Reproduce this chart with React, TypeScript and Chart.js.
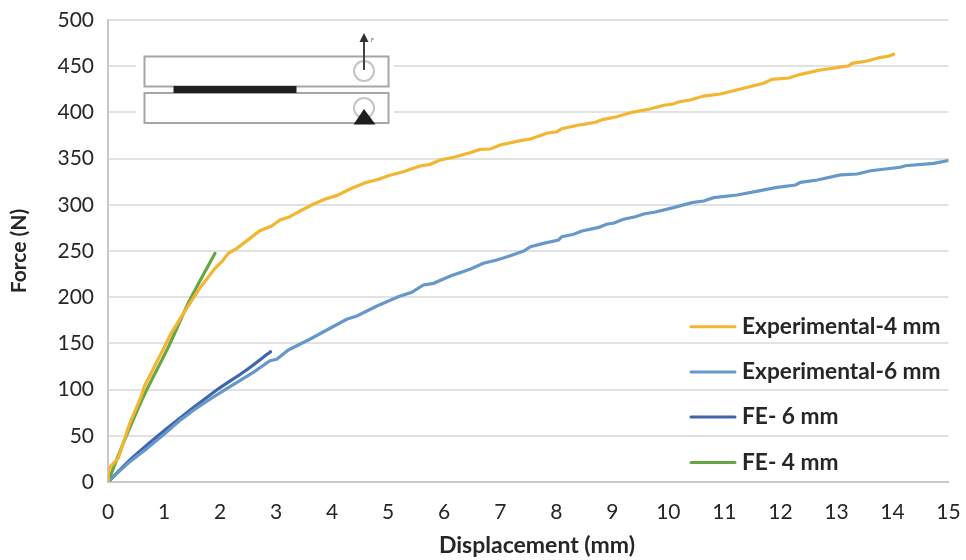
import React, { useEffect, useRef } from "react";
import { Chart, registerables } from "chart.js";

Chart.register(...registerables);

const FONT = "Lato, Carlito, 'Open Sans', sans-serif";
const TEXT = "#262626";

const exp4X = [0, 0.006, 0.065, 0.185, 0.27, 0.38, 0.45, 0.57, 0.66, 0.78, 0.87, 0.98, 1.11, 1.29, 1.46, 1.64, 1.91, 2.03, 2.15, 2.3, 2.51, 2.71, 2.92, 3.07, 3.22, 3.43, 3.67, 3.88, 4.08, 4.32, 4.59, 4.83, 5.0, 5.27, 5.57, 5.75, 5.93, 6.17, 6.46, 6.64, 6.82, 7.0, 7.36, 7.54, 7.83, 8.01, 8.1, 8.4, 8.49, 8.7, 8.84, 9.08, 9.35, 9.65, 9.92, 10.09, 10.18, 10.39, 10.63, 10.93, 11.29, 11.7, 11.85, 12.15, 12.36, 12.71, 13.01, 13.22, 13.28, 13.55, 13.79, 13.93, 14.02];
const exp4Y = [0, 13, 18, 26, 42, 62, 72.5, 89, 105, 119, 130, 143, 159, 177, 193, 210, 231.3, 238.4, 247.5, 252.9, 262.6, 272, 277, 283.5, 286.4, 293.3, 300.9, 306.3, 309.9, 317.1, 323.9, 327.6, 331.5, 335.8, 342, 343.8, 348.5, 351.4, 356.4, 360, 360.4, 364.7, 369.4, 371.2, 377.4, 379.1, 382.4, 386.4, 387.1, 389.3, 392.5, 395.3, 400.1, 403.4, 407.7, 409.1, 411.3, 413.4, 417.7, 419.9, 425.3, 431.5, 435.8, 437.2, 441.2, 445.9, 448.4, 450.5, 453.1, 455.6, 459.6, 460.7, 462.9];

const exp6X = [0, 0.155, 0.39, 0.69, 0.99, 1.29, 1.58, 1.88, 2.12, 2.36, 2.6, 2.89, 3.01, 3.22, 3.61, 3.93, 4.26, 4.44, 4.8, 5.18, 5.42, 5.63, 5.81, 6.11, 6.46, 6.7, 6.94, 7.18, 7.42, 7.54, 7.77, 8.04, 8.1, 8.31, 8.46, 8.76, 8.91, 9.02, 9.2, 9.41, 9.56, 9.77, 10.09, 10.42, 10.63, 10.81, 11.23, 11.64, 11.94, 12.27, 12.36, 12.66, 13.07, 13.37, 13.61, 14.14, 14.23, 14.74, 15];
const exp6Y = [0, 9, 22, 36, 51, 67, 80, 92, 101, 110, 119, 131.3, 132.8, 142.9, 154.8, 165.3, 176.1, 179.7, 190.5, 200.5, 205.3, 213.2, 215, 222.9, 230.2, 236.7, 240.3, 244.9, 250, 254.7, 258.3, 261.9, 265.5, 268.1, 271.6, 275.6, 279.2, 280, 284.3, 287.1, 290, 292.2, 296.9, 302.3, 304.1, 307.7, 310.6, 315.3, 318.9, 321.4, 324.3, 326.8, 332.3, 333.3, 336.9, 340.6, 342.3, 344.9, 348];

const fe6X = [0, 0.45, 1.05, 1.94, 2.42, 2.9];
const fe6Y = [0, 27, 58, 99.5, 119, 141];

const fe4X = [0, 0.27, 0.63, 1.08, 1.46, 1.91];
const fe4Y = [0, 41.5, 92, 146.5, 197, 247.5];

const seriesNames = ["Experimental-4 mm", "Experimental-6 mm", "FE- 6 mm", "FE- 4 mm"];
const seriesColors = ["#F2B632", "#6699C9", "#3F65AC", "#68A644"];
const seriesTension = [0, 0, 0.3, 0.3];
const xTicks = [0, 1, 2, 3, 4, 5, 6, 7, 8, 9, 10, 11, 12, 13, 14, 15];
const yTitle = "Force (N)";
const xTitle = "Displacement (mm)";

const pts = (xs: number[], ys: number[]) => xs.map((x, i) => ({ x, y: ys[i] }));

const noScalePadding = (s: any) => {
  s.paddingLeft = 0;
  s.paddingRight = 0;
  s.paddingTop = 0;
  s.paddingBottom = 0;
};

const overlay = {
  id: "overlay",
  afterDraw(chart: any) {
    const c = chart.ctx as CanvasRenderingContext2D;
    c.save();
    // loading-setup inset
    c.fillStyle = "#fff";
    c.fillRect(136, 40, 258, 90);
    c.strokeStyle = "#a6a6a6";
    c.lineWidth = 2;
    c.strokeRect(144.5, 56.5, 244, 30);
    c.strokeRect(144.5, 93, 244, 30);
    c.strokeStyle = "#c4c4c4";
    c.beginPath();
    c.arc(364, 71, 10, 0, Math.PI * 2);
    c.stroke();
    c.beginPath();
    c.arc(364, 108, 10, 0, Math.PI * 2);
    c.stroke();
    c.fillStyle = "#1e1e1e";
    c.fillRect(173.5, 86, 123, 7);
    c.beginPath();
    c.moveTo(364, 109);
    c.lineTo(353.5, 124.5);
    c.lineTo(375.5, 124.5);
    c.closePath();
    c.fill();
    c.strokeStyle = "#444";
    c.lineWidth = 2;
    c.beginPath();
    c.moveTo(364, 70);
    c.lineTo(364, 38);
    c.stroke();
    c.fillStyle = "#333";
    c.beginPath();
    c.moveTo(364, 33);
    c.lineTo(359.5, 42);
    c.lineTo(368.5, 42);
    c.closePath();
    c.fill();
    c.font = `5px ${FONT}`;
    c.textAlign = "left";
    c.textBaseline = "middle";
    c.fillStyle = "#555";
    c.fillText("F", 371, 40);

    // legend
    const rows = [326.7, 372, 417, 462.5];
    c.font = `bold 22.7px ${FONT}`;
    seriesNames.forEach((name, i) => {
      c.strokeStyle = seriesColors[i];
      c.lineWidth = 3;
      c.lineCap = "round";
      c.beginPath();
      c.moveTo(691, rows[i]);
      c.lineTo(735, rows[i]);
      c.stroke();
      c.fillStyle = TEXT;
      c.fillText(name, 742, rows[i]);
    });

    // x axis title, off-centre in the reference
    c.font = `bold 23px ${FONT}`;
    c.textAlign = "center";
    c.fillText(xTitle, 537, 546);
    c.restore();
  },
};

export default function App() {
  const ref = useRef<HTMLCanvasElement>(null);
  useEffect(() => {
    const chart = new Chart(ref.current!, {
      type: "line",
      data: {
        datasets: [
          { label: seriesNames[0], data: pts(exp4X, exp4Y) },
          { label: seriesNames[1], data: pts(exp6X, exp6Y) },
          { label: seriesNames[2], data: pts(fe6X, fe6Y) },
          { label: seriesNames[3], data: pts(fe4X, fe4Y) },
        ].map((d, i) => ({
          ...d,
          borderColor: seriesColors[i],
          backgroundColor: seriesColors[i],
          borderWidth: 3.2,
          pointRadius: 0,
          tension: seriesTension[i],
          borderCapStyle: "round" as const,
        })),
      },
      options: {
        responsive: false,
        animation: false,
        layout: { autoPadding: false, padding: { top: 20, right: 17.5, left: 0, bottom: 0 } },
        plugins: { legend: { display: false }, tooltip: { enabled: false } },
        scales: {
          x: {
            type: "linear",
            min: 0,
            max: 15,
            afterBuildTicks: (s: any) => {
              s.ticks = xTicks.map((value) => ({ value }));
            },
            afterFit: (s: any) => {
              s.height = 78;
              noScalePadding(s);
            },
            grid: { display: false, drawTicks: false },
            border: { color: "#c8c8c8", width: 2 },
            ticks: {
              font: { family: FONT, size: 21 },
              color: TEXT,
              maxRotation: 0,
              autoSkip: false,
              padding: 18,
            },
          },
          y: {
            min: 0,
            max: 500,
            afterFit: (s: any) => {
              s.width = 108;
              noScalePadding(s);
            },
            grid: { color: "#e2e2e2", lineWidth: 2, drawTicks: false },
            border: { color: "#c8c8c8", width: 2 },
            ticks: {
              stepSize: 50,
              font: { family: FONT, size: 21 },
              color: TEXT,
              padding: 14,
            },
            title: {
              display: true,
              text: yTitle,
              font: { family: FONT, size: 21, weight: "bold" },
              color: TEXT,
              padding: { top: 7, bottom: 0 },
            },
          },
        },
      },
      plugins: [overlay],
    } as any);
    return () => chart.destroy();
  }, []);
  return (
    <div style={{ position: "fixed", left: 0, top: 0, width: 966, height: 560, background: "#fff" }}>
      <canvas ref={ref} width={966} height={560} style={{ display: "block" }} />
    </div>
  );
}
